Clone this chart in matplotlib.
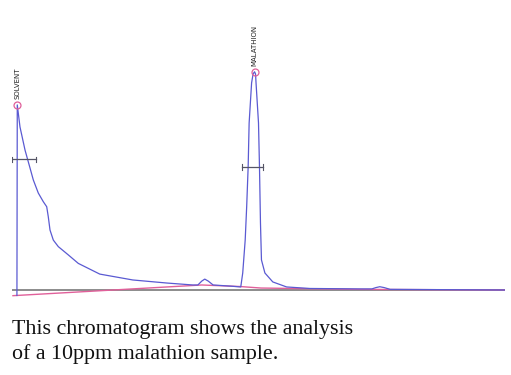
import matplotlib
matplotlib.use("Agg")
import matplotlib.pyplot as plt

# Retention time (min) and detector signal (relative units)
time_min = [0.10, 0.107, 0.162, 0.264, 0.365, 0.432, 0.533, 0.635, 0.704, 0.736,
            0.771, 0.838, 0.939, 1.142, 1.345, 1.78, 2.45, 3.14, 3.67, 3.77,
            3.85, 3.91, 3.98, 4.08, 4.42, 4.64, 4.68, 4.73, 4.76, 4.79, 4.81,
            4.86, 4.89, 4.92, 4.94, 4.95, 5.00, 5.02, 5.04, 5.06, 5.13, 5.29,
            5.57, 6.04, 7.06, 7.30, 7.38, 7.46, 7.55, 7.67, 10.0]
signal = [-2.5, 84.9, 74.8, 64.2, 56.0, 50.5, 44.5, 40.5, 38.2, 33.6,
          27.5, 22.9, 19.9, 16.1, 12.2, 7.3, 4.6, 3.2, 2.3, 2.3,
          4.1, 5.0, 4.1, 2.3, 1.8, 1.4, 7.8, 22.9, 38.1, 56.4, 76.6,
          95.0, 99.1, 100.1, 99.1, 95.0, 76.6, 56.4, 30.7, 13.8, 7.8, 3.7,
          1.4, 0.7, 0.5, 0.5, 1.1, 1.5, 1.1, 0.3, 0.0]

# Integration baseline (pink)
base_t = [0.02, 3.85, 4.62, 5.05, 7.0, 10.0]
base_s = [-2.6, 2.3, 1.6, 0.9, 0.3, 0.0]

# Peaks: name, apex time, apex signal, half-height, half-width limits
peak_names = ["SOLVENT", "MALATHION"]
peak_t = [0.107, 4.92]
peak_s = [84.9, 100.1]
half_s = [60.0, 56.4]
half_t0 = [0.0, 4.67]
half_t1 = [0.49, 5.09]

fig = plt.figure(figsize=(5.11, 3.75), dpi=100)
W, H = 511, 375
y0, y1 = -5, 105
ppu = 2.18
top_py = 290 - y1 * ppu
bot_py = 290 - y0 * ppu
ax = fig.add_axes([12 / W, 1 - bot_py / H, (505 - 12) / W, (bot_py - top_py) / H])
ax.set_xlim(0, 10)
ax.set_ylim(y0, y1)
ax.axis("off")

blue = "#5a5ad2"
pink = "#e0609a"

ax.plot([0, 10], [0, 0], color="#8c8c8c", lw=1.4, zorder=1)
ax.plot(base_t, base_s, color=pink, lw=1.0, zorder=2)
ax.plot(time_min, signal, color=blue, lw=0.9, zorder=3,
        solid_joinstyle="round")

for name, t, s, hs, a, b in zip(peak_names, peak_t, peak_s, half_s, half_t0, half_t1):
    ax.plot([t], [s], marker="o", ms=5, mfc="none", mec=pink, mew=0.9, zorder=4)
    ax.plot([a, b], [hs, hs], color="#555566", lw=0.9, zorder=4)
    ax.plot([a, a], [hs - 1.2, hs + 1.2], color="#555566", lw=0.8)
    ax.plot([b, b], [hs - 1.2, hs + 1.2], color="#555566", lw=0.8)
    ax.annotate(name, (t, s), xytext=(0, 4), textcoords="offset points",
                rotation=90, ha="center", va="bottom", fontsize=5,
                family="DejaVu Sans", color="#222222", annotation_clip=False)

fig.text(12 / W, 1 - 334 / H, "This chromatogram shows the analysis",
         family="Liberation Serif", fontsize=15.8, color="#111111", va="baseline")
fig.text(12 / W, 1 - 359 / H, "of a 10ppm malathion sample.",
         family="Liberation Serif", fontsize=15.8, color="#111111", va="baseline")

fig.savefig("out.png", dpi=100)
